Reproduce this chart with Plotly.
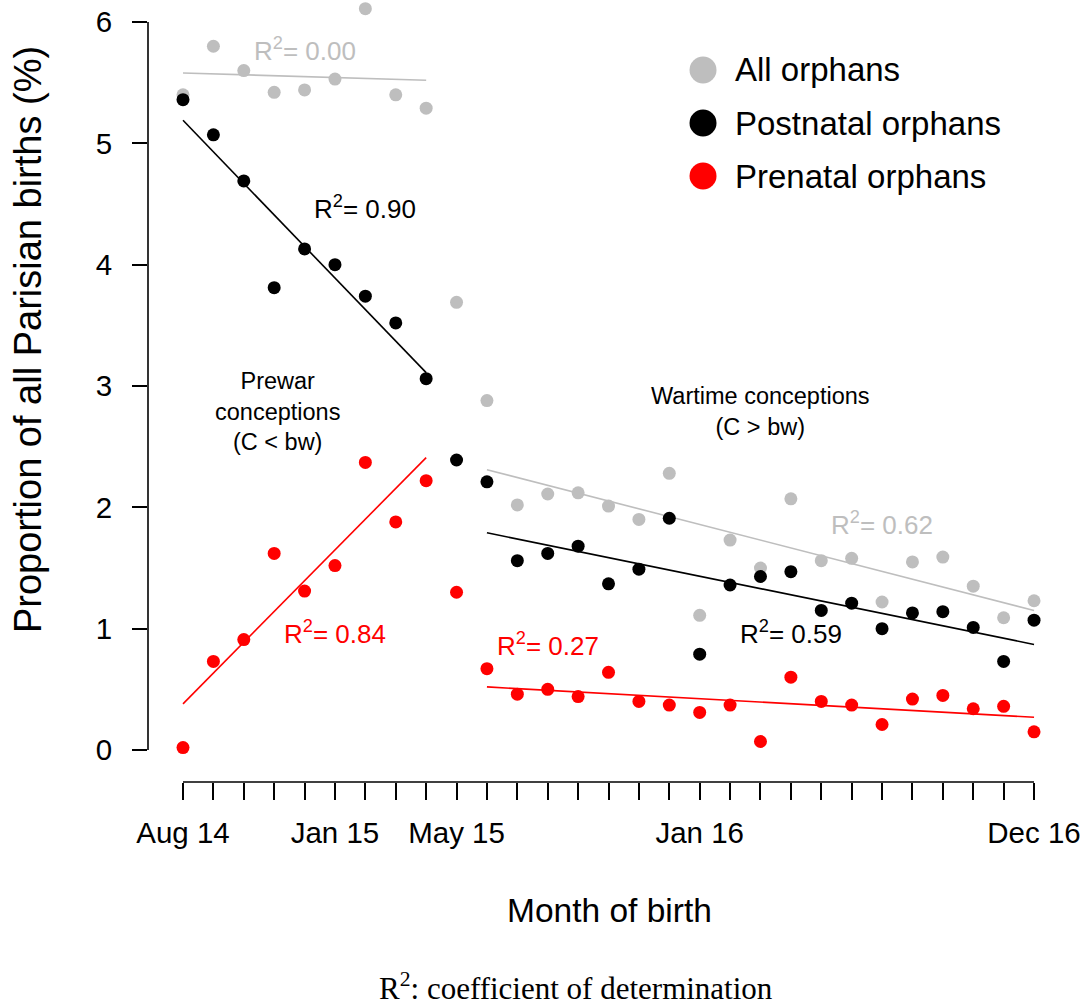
import plotly.graph_objects as go

# months since Aug 1914 (0 = Aug 14, 28 = Dec 16)
months = list(range(29))
label_months = [0, 5, 9, 17, 28]
label_text = ["Aug 14", "Jan 15", "May 15", "Jan 16", "Dec 16"]

all_orphans = [5.40, 5.80, 5.60, 5.42, 5.44, 5.53, 6.11, 5.40, 5.29,
               3.69, 2.88, 2.02, 2.11, 2.12, 2.01, 1.90, 2.28, 1.11,
               1.73, 1.50, 2.07, 1.56, 1.58, 1.22, 1.55, 1.59, 1.35, 1.09, 1.23]
postnatal = [5.36, 5.07, 4.69, 3.81, 4.13, 4.00, 3.74, 3.52, 3.06,
             2.39, 2.21, 1.56, 1.62, 1.68, 1.37, 1.49, 1.91, 0.79,
             1.36, 1.43, 1.47, 1.15, 1.21, 1.00, 1.13, 1.14, 1.01, 0.73, 1.07]
prenatal = [0.02, 0.73, 0.91, 1.62, 1.31, 1.52, 2.37, 1.88, 2.22,
            1.30, 0.67, 0.46, 0.50, 0.44, 0.64, 0.40, 0.37, 0.31,
            0.37, 0.07, 0.60, 0.40, 0.37, 0.21, 0.42, 0.45, 0.34, 0.36, 0.15]

# fitted regression lines (start, end)
prewar_x = [0, 8]
wartime_x = [10, 28]
fit_all_prewar = [5.58, 5.52]
fit_post_prewar = [5.19, 3.11]
fit_pre_prewar = [0.38, 2.41]
fit_all_war = [2.31, 1.15]
fit_post_war = [1.79, 0.87]
fit_pre_war = [0.52, 0.27]

GREY = "#BEBEBE"
BLACK = "#000000"
RED = "#FF0000"
FONT = "Liberation Sans, Arial, Helvetica, sans-serif"

fig = go.Figure()

fits = [
    (prewar_x, fit_all_prewar, GREY), (prewar_x, fit_post_prewar, BLACK), (prewar_x, fit_pre_prewar, RED),
    (wartime_x, fit_all_war, GREY), (wartime_x, fit_post_war, BLACK), (wartime_x, fit_pre_war, RED),
]
for xs, ys, c in fits:
    fig.add_trace(go.Scatter(x=xs, y=ys, mode="lines", line=dict(color=c, width=1.6),
                             showlegend=False, hoverinfo="skip"))

for name, vals, c in [("All orphans", all_orphans, GREY),
                      ("Postnatal orphans", postnatal, BLACK),
                      ("Prenatal orphans", prenatal, RED)]:
    fig.add_trace(go.Scatter(x=months, y=vals, mode="markers", name=name,
                             marker=dict(color=c, size=13), showlegend=False,
                             cliponaxis=False))

# axis lines drawn R-style (only over the data range)
shapes = [
    dict(type="line", xref="x", yref="paper", x0=0, x1=28, y0=0, y1=0,
         line=dict(color="black", width=1.6)),
    dict(type="line", xref="paper", yref="y", x0=0, x1=0, y0=0, y1=6,
         line=dict(color="black", width=1.6)),
]

# manual legend with large dots
legend_rows = [("All orphans", GREY, 0.9105), ("Postnatal orphans", BLACK, 0.8427),
               ("Prenatal orphans", RED, 0.7749)]
annotations = []
for label, c, yy in legend_rows:
    shapes.append(dict(type="circle", xref="paper", yref="paper",
                       xsizemode="pixel", ysizemode="pixel",
                       xanchor=0.6046, yanchor=yy, x0=-13.5, x1=13.5, y0=-13.5, y1=13.5,
                       fillcolor=c, line=dict(width=0)))
    annotations.append(dict(xref="paper", yref="paper", x=0.6373, y=yy, text=label,
                            showarrow=False, xanchor="left", yanchor="middle",
                            font=dict(size=33, color="black", family=FONT)))

r2_labels = [
    ("R<sup>2</sup>= 0.00", 4.0, 5.77, GREY),
    ("R<sup>2</sup>= 0.90", 6.0, 4.47, BLACK),
    ("R<sup>2</sup>= 0.84", 5.0, 0.97, RED),
    ("R<sup>2</sup>= 0.27", 12.0, 0.87, RED),
    ("R<sup>2</sup>= 0.62", 23.0, 1.87, GREY),
    ("R<sup>2</sup>= 0.59", 20.0, 0.97, BLACK),
]
for txt, xx, yy, c in r2_labels:
    annotations.append(dict(x=xx, y=yy, text=txt, showarrow=False,
                            font=dict(size=26, color=c, family=FONT)))

annotations += [
    dict(x=3.1, y=2.79, text="Prewar<br>conceptions<br>(C &lt; bw)", showarrow=False,
         font=dict(size=23.5, color="black", family=FONT)),
    dict(x=19.0, y=2.79, text="Wartime conceptions<br>(C &gt; bw)", showarrow=False,
         font=dict(size=23.5, color="black", family=FONT)),
    dict(xref="paper", yref="paper", x=-0.1307, y=0.5652, text="Proportion of all Parisian births (%)",
         textangle=-90, showarrow=False, xanchor="center", yanchor="middle",
         font=dict(size=38, color="black", family=FONT)),
    dict(xref="paper", yref="paper", x=0.5022, y=-0.1637, text="Month of birth",
         showarrow=False, xanchor="center", yanchor="middle",
         font=dict(size=33.5, color="black", family=FONT)),
    dict(xref="paper", yref="paper", x=0.4662, y=-0.262, text="R<sup>2</sup>: coefficient of determination",
         showarrow=False, xanchor="center", yanchor="middle",
         font=dict(size=31, color="black", family="Liberation Serif, Times New Roman, serif")),
]

fig.update_layout(
    width=1086, height=1007,
    margin=dict(l=148, r=20, t=0, b=225),
    plot_bgcolor="white", paper_bgcolor="white",
    showlegend=False,
    shapes=shapes, annotations=annotations,
    xaxis=dict(range=[-1.1516, 29.052], showgrid=False, zeroline=False, showline=False,
               tickmode="array", tickvals=label_months, ticktext=label_text,
               ticks="outside", ticklen=17, tickwidth=1.5, tickcolor="black",
               ticklabelstandoff=8,
               minor=dict(tickmode="array", tickvals=months, ticks="outside",
                          ticklen=17, tickwidth=1.5, tickcolor="black", showgrid=False),
               tickfont=dict(size=29.5, color="black", family=FONT)),
    yaxis=dict(range=[-0.2637, 6.1813], showgrid=False, zeroline=False, showline=False,
               tickmode="array", tickvals=[0, 1, 2, 3, 4, 5, 6],
               ticks="outside", ticklen=15, tickwidth=1.5, tickcolor="black",
               ticklabelstandoff=14,
               tickfont=dict(size=29.5, color="black", family=FONT)),
)

# drop the browser's default body margin so the figure fills the window exactly
fig.write_html("out.html", config={"displayModeBar": False},
               post_script="document.body.style.margin='0';")
